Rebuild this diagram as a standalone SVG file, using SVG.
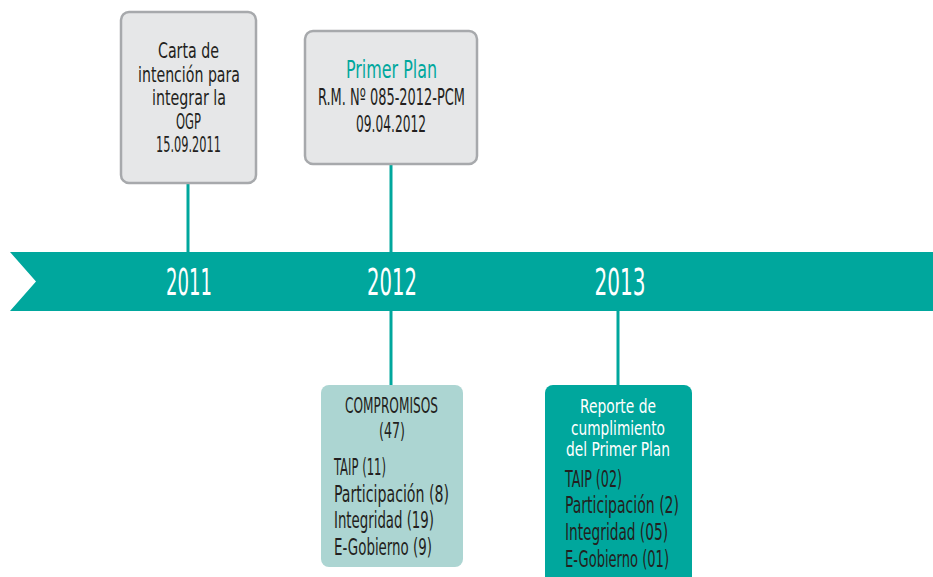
<svg xmlns="http://www.w3.org/2000/svg" width="933" height="577" viewBox="0 0 933 577">
<style>
text{font-family:"DejaVu Sans Condensed","Liberation Sans Narrow","Liberation Sans",sans-serif;fill:#231f20;font-size:23.5px}
.c{text-anchor:middle}
.s{font-size:22px}
.w{fill:#ffffff;font-size:19.5px}
.t{fill:#00a79d}
.yr{fill:#ffffff;font-size:37px;text-anchor:middle}
.conn{stroke:#00a79d;stroke-width:3;fill:none}
.grey{fill:#e6e7e8;stroke:#a7a9ac;stroke-width:2.5}
</style>
<rect width="933" height="577" fill="#ffffff"/>
<g id="timeline">
<polygon points="10,252 933,252 933,311 10,311 36,281.5" fill="#00a79d"/>
<text class="yr" x="189" y="295" textLength="46" lengthAdjust="spacingAndGlyphs">2011</text>
<text class="yr" x="392" y="295" textLength="50" lengthAdjust="spacingAndGlyphs">2012</text>
<text class="yr" x="620" y="295" textLength="51" lengthAdjust="spacingAndGlyphs">2013</text>
</g>
<g id="connectors">
<line class="conn" x1="188" y1="183" x2="188" y2="252"/>
<line class="conn" x1="391" y1="165" x2="391" y2="252"/>
<line class="conn" x1="391" y1="311" x2="391" y2="385"/>
<line class="conn" x1="618" y1="311" x2="618" y2="385"/>
</g>
<g id="node-carta">
<rect class="grey" x="121" y="12" width="135" height="171" rx="8"/>
<text class="c s" x="188.5" y="58" textLength="61" lengthAdjust="spacingAndGlyphs">Carta de</text>
<text class="c s" x="189" y="81.5" textLength="102" lengthAdjust="spacingAndGlyphs">intención para</text>
<text class="c s" x="189" y="105" textLength="74" lengthAdjust="spacingAndGlyphs">integrar la</text>
<text class="c s" x="188.5" y="128.5" textLength="25" lengthAdjust="spacingAndGlyphs">OGP</text>
<text class="c s" x="188.5" y="152" textLength="65" lengthAdjust="spacingAndGlyphs">15.09.2011</text>
</g>
<g id="node-primer-plan">
<rect class="grey" x="305" y="31" width="172" height="133" rx="8"/>
<text class="c t" x="391.5" y="78" style="font-size:24px" textLength="91" lengthAdjust="spacingAndGlyphs">Primer Plan</text>
<text class="c" x="391.5" y="105" textLength="147" lengthAdjust="spacingAndGlyphs">R.M. Nº 085-2012-PCM</text>
<text class="c" x="391" y="132" textLength="70" lengthAdjust="spacingAndGlyphs">09.04.2012</text>
</g>
<g id="node-compromisos">
<rect x="321" y="385" width="142" height="182" rx="8" fill="#acd5d2"/>
<text class="c s" x="391.5" y="413" textLength="93" lengthAdjust="spacingAndGlyphs">COMPROMISOS</text>
<text class="c s" x="392" y="438" textLength="26" lengthAdjust="spacingAndGlyphs">(47)</text>
<text x="334" y="475" textLength="52" lengthAdjust="spacingAndGlyphs">TAIP (11)</text>
<text x="334" y="502" textLength="115" lengthAdjust="spacingAndGlyphs">Participación (8)</text>
<text x="334" y="528" textLength="100" lengthAdjust="spacingAndGlyphs">Integridad (19)</text>
<text x="334" y="555" textLength="98" lengthAdjust="spacingAndGlyphs">E-Gobierno (9)</text>
</g>
<g id="node-reporte">
<rect x="545" y="385" width="147" height="200" rx="8" fill="#00a79d"/>
<text class="c w" x="618" y="413" textLength="76" lengthAdjust="spacingAndGlyphs">Reporte de</text>
<text class="c w" x="618" y="434.5" textLength="94" lengthAdjust="spacingAndGlyphs">cumplimiento</text>
<text class="c w" x="618" y="456" textLength="104" lengthAdjust="spacingAndGlyphs">del Primer Plan</text>
<text x="565" y="487" textLength="57" lengthAdjust="spacingAndGlyphs">TAIP (02)</text>
<text x="565" y="513" textLength="114" lengthAdjust="spacingAndGlyphs">Participación (2)</text>
<text x="565" y="540" textLength="103" lengthAdjust="spacingAndGlyphs">Integridad (05)</text>
<text x="565" y="567" textLength="104" lengthAdjust="spacingAndGlyphs">E-Gobierno (01)</text>
</g>
</svg>
